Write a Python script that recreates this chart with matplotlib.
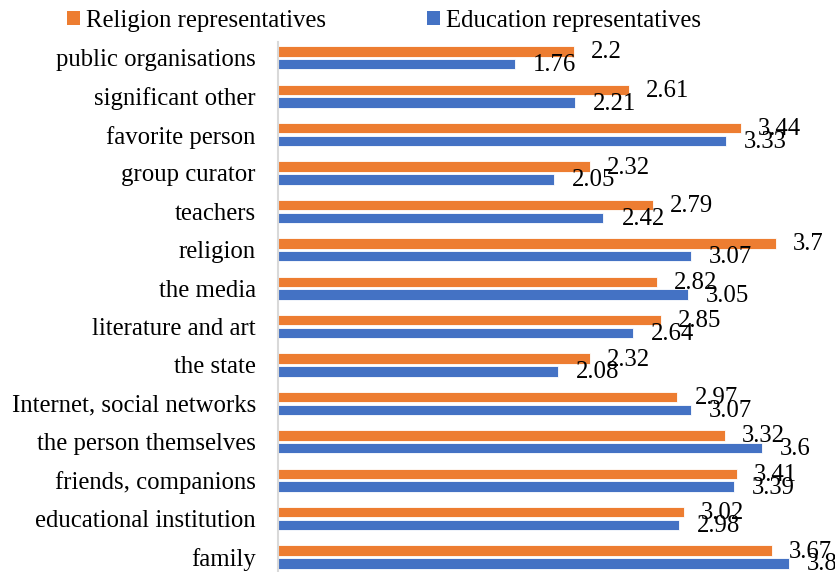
import matplotlib
matplotlib.use("Agg")
import matplotlib.pyplot as plt
from matplotlib.patches import Patch

categories = ["public organisations", "significant other", "favorite person",
              "group curator", "teachers", "religion", "the media",
              "literature and art", "the state", "Internet, social networks",
              "the person themselves", "friends, companions",
              "educational institution", "family"]
religion = [2.2, 2.61, 3.44, 2.32, 2.79, 3.7, 2.82, 2.85, 2.32, 2.97, 3.32, 3.41, 3.02, 3.67]
education = [1.76, 2.21, 3.33, 2.05, 2.42, 3.07, 3.05, 2.64, 2.08, 3.07, 3.6, 3.39, 2.98, 3.8]
series_names = ["Religion representatives", "Education representatives"]

ORANGE = "#ED7D31"
BLUE = "#4472C4"
FONT = "Liberation Serif"
FS = 17.8

plt.rcParams['font.family'] = [FONT, 'DejaVu Serif']

fig = plt.figure(figsize=(8.35, 5.72), dpi=100)
W, H = 835, 572
ax = fig.add_axes([278 / W, 0, 1 - 278 / W, (572 - 42) / H])

n = len(categories)
ypos = [n - 1 - i for i in range(n)]
h = 0.27
off = 0.167
ax.barh([y + off for y in ypos], religion, height=h, color=ORANGE,
        edgecolor="white", linewidth=0.6)
ax.barh([y - off for y in ypos], education, height=h, color=BLUE,
        edgecolor="white", linewidth=0.6)

for y, v in zip(ypos, religion):
    ax.annotate(f"{v:g}", (v, y + off), xytext=(17, -1), textcoords="offset pixels",
                va="center", ha="left", fontsize=FS, color="#000000",
                annotation_clip=False)
for y, v in zip(ypos, education):
    ax.annotate(f"{v:g}", (v, y - off), xytext=(18, -1), textcoords="offset pixels",
                va="center", ha="left", fontsize=FS, color="#000000",
                annotation_clip=False)

ax.set_xlim(0, 557 / 134.5)
ax.set_ylim(-0.39, n - 1 + 0.41)
ax.set_yticks(ypos)
ax.set_yticklabels(categories, fontsize=FS)
ax.tick_params(axis="y", length=0, pad=16)
ax.set_xticks([])
for s in ["top", "right", "bottom"]:
    ax.spines[s].set_visible(False)
ax.spines["left"].set_color("#d9d9d9")
ax.spines["left"].set_linewidth(1.5)

handles = [Patch(facecolor=ORANGE, label=series_names[0]),
           Patch(facecolor=BLUE, label=series_names[1])]
fig.legend(handles=handles, loc="center", bbox_to_anchor=(384 / W, 1 - 21 / H),
           ncol=2, frameon=False, fontsize=FS, handlelength=0.5, handleheight=0.5,
           handletextpad=0.25, columnspacing=4.1, borderpad=0)

fig.savefig("out.png", dpi=100)
